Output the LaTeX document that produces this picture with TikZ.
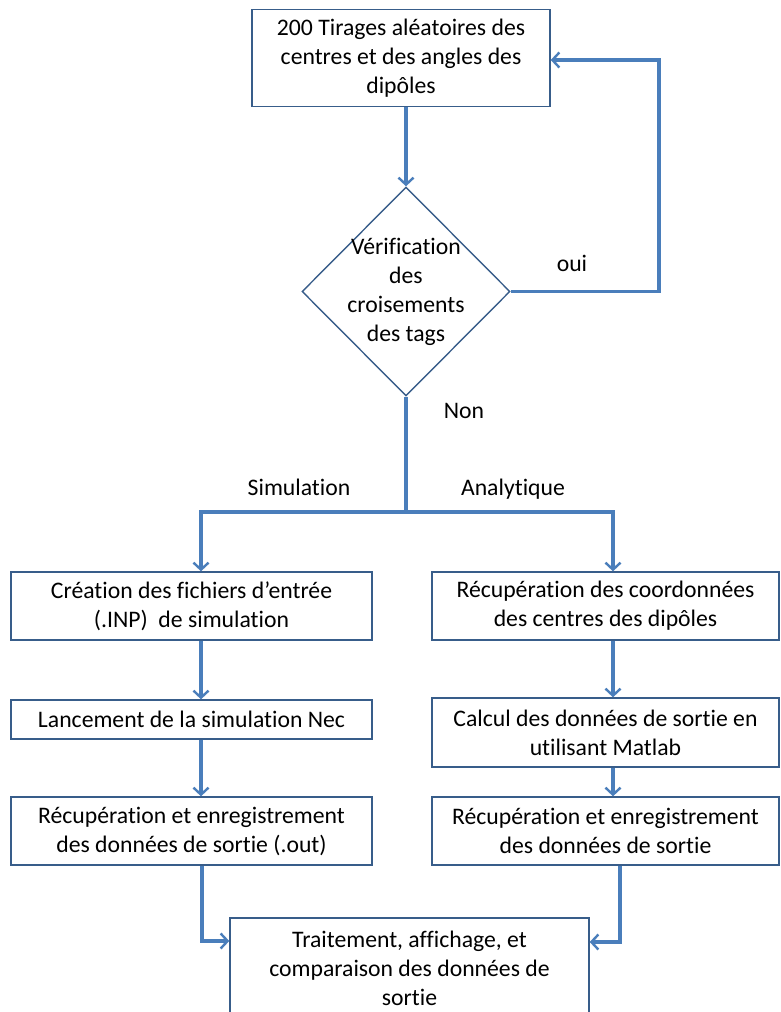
\documentclass[tikz,border=0pt]{standalone}
\usepackage{fontspec}
\setmainfont{Carlito}[Ligatures=NoCommon]
\usetikzlibrary{shapes.geometric,arrows.meta,calc}
\definecolor{boxline}{HTML}{385D8A}
\definecolor{arrline}{HTML}{4A7EBB}
\begin{document}
\begin{tikzpicture}[x=1pt,y=-1pt,
  txt/.style={font=\fontsize{23.7}{29}\selectfont},
  procbox/.style={draw=boxline,line width=1.4pt,fill=white,txt,align=center,inner sep=0pt},
  conn/.style={draw=arrline,line width=3.2pt},
  arr/.style={conn,-{Straight Barb[length=7pt,width=15pt,line width=2.4pt]}},
  lbl/.style={txt,inner sep=0pt}
]
\useasboundingbox (0,0) rectangle (780,1012);
% boxes
\node[procbox,minimum width=298pt,minimum height=97pt] (top) at (401,58) {200 Tirages aléatoires des\\centres et des angles des\\dipôles};
\node[diamond,draw=boxline,line width=1.4pt,minimum width=208pt,minimum height=209pt,inner sep=0pt,
  label={[txt,align=center]center:Vérification\\des\\croisements\\des tags}] (dec) at (406,291.5) {};
\node[procbox,minimum width=361pt,minimum height=68pt] (b1) at (191.5,606) {Création des fichiers d’entrée\\(.INP)~ de simulation};
\node[procbox,minimum width=361pt,minimum height=39pt] (b2) at (191.5,719.5) {Lancement de la simulation Nec};
\node[procbox,minimum width=361pt,minimum height=68pt] (b3) at (191.5,831) {Récupération et enregistrement\\des données de sortie (.out)};
\node[procbox,minimum width=347pt,minimum height=68pt] (c1) at (605.5,606) {Récupération des coordonnées\\des centres des dipôles};
\node[procbox,minimum width=347pt,minimum height=69pt] (c2) at (605.5,732.5) {Calcul des données de sortie en\\utilisant Matlab};
\node[procbox,minimum width=347pt,minimum height=68pt] (c3) at (605.5,831) {Récupération et enregistrement\\des données de sortie};
\node[procbox,minimum width=359pt,minimum height=100pt] (fin) at (409.5,968) {Traitement, affichage, et\\comparaison des données de\\sortie};
% labels
\node[lbl] (oui) at (572,263) {oui};
\node[lbl] (non) at (464,411) {Non};
\node[lbl] (sim) at (299,487) {Simulation};
\node[lbl] (ana) at (513,489) {Analytique};
% connectors
\draw[arr] (dec.north |- top.south) -- (dec.north);
\coordinate (fb) at (659,60);
\draw[arr] (dec.east) -| (fb) -- (top.east |- fb);
\coordinate (split) at (406,512);
\coordinate (sl) at (201,512);
\coordinate (sr) at (613,512);
\draw[conn] (dec.south) -- (split);
\draw[arr] (split) -- (sl) -- (sl |- b1.north);
\draw[arr] (split) -- (sr) -- (sr |- c1.north);
\draw[arr] (sl |- b1.south) -- (sl |- b2.north);
\draw[arr] (sl |- b2.south) -- (sl |- b3.north);
\draw[arr] (sr |- c1.south) -- (sr |- c2.north);
\draw[arr] (sr |- c2.south) -- (sr |- c3.north);
\coordinate (fl) at (202,941);
\coordinate (fr) at (620,942);
\draw[arr] (fl |- b3.south) -- (fl) -- (fin.west |- fl);
\draw[arr] (fr |- c3.south) -- (fr) -- (fin.east |- fr);
\end{tikzpicture}
\end{document}
